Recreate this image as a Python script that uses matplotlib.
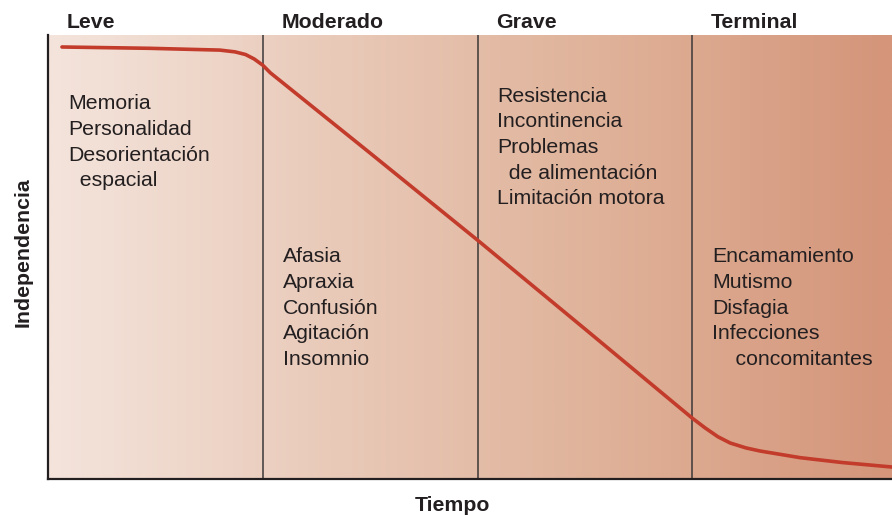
import matplotlib.pyplot as plt
import numpy as np
from matplotlib.colors import LinearSegmentedColormap

plt.rcParams['font.family'] = ['Liberation Sans', 'DejaVu Sans']

# etapas y sintomas
stages = ['Leve', 'Moderado', 'Grave', 'Terminal']
stage_start = [0, 1, 2, 3]
symptoms = [
    ['Memoria', 'Personalidad', 'Desorientación', '  espacial'],
    ['Afasia', 'Apraxia', 'Confusión', 'Agitación', 'Insomnio'],
    ['Resistencia', 'Incontinencia', 'Problemas', '  de alimentación', 'Limitación motora'],
    ['Encamamiento', 'Mutismo', 'Disfagia', 'Infecciones', '    concomitantes'],
]
# altura (0-1) de la primera linea de cada bloque
symptom_top = [0.845, 0.5, 0.862, 0.5]

# curva de independencia
tiempo = [0.065, 0.475, 0.80, 0.871, 0.92, 0.96, 1.0, 1.035, 1.071,
          1.5, 2.0, 2.5, 3.0, 3.06, 3.12, 3.177, 3.25, 3.316, 3.503, 3.7, 3.93]
independencia = [0.973, 0.970, 0.966, 0.962, 0.956, 0.946, 0.932, 0.915, 0.901,
                 0.734, 0.538, 0.338, 0.137, 0.115, 0.095, 0.081, 0.070, 0.063, 0.048, 0.037, 0.027]

xmax = 3.93

fig = plt.figure(figsize=(8.92, 5.15), dpi=100)
ax = fig.add_axes([48 / 892, 36 / 515, 844 / 892, 444 / 515])

# fondo degradado
cmap = LinearSegmentedColormap.from_list('bg', ['#f4e4dc', '#e9cab9', '#dfb198', '#d4957a'])
grad = np.linspace(0, 1, 512).reshape(1, -1)
ax.imshow(grad, cmap=cmap, aspect='auto', extent=[0, xmax, 0, 1], zorder=0)

for s in stage_start[1:]:
    ax.axvline(s, color='#3c3838', lw=1.1, zorder=1)

ax.plot(tiempo, independencia, color='#c23b2b', lw=2.6, solid_capstyle='round',
        solid_joinstyle='round', zorder=3)

for name, s in zip(stages, stage_start):
    ax.text(s + 0.088, 1.0 + 13 / 444, name, fontsize=15.3, fontweight='bold',
            color='#231f20', va='center', ha='left', clip_on=False)

spacing = 25.6 / 444
for lines, s, top in zip(symptoms, stage_start, symptom_top):
    for i, line in enumerate(lines):
        ax.text(s + 0.093, top - i * spacing, line, fontsize=15.3, color='#231f20',
                va='center', ha='left')

ax.set_xlim(0, xmax)
ax.set_ylim(0, 1)
ax.set_xticks([])
ax.set_yticks([])
for side in ['top', 'right']:
    ax.spines[side].set_visible(False)
for side in ['left', 'bottom']:
    ax.spines[side].set_color('#231f20')
    ax.spines[side].set_linewidth(1.6)

ax.set_ylabel('Independencia', fontsize=15.3, fontweight='bold', color='#231f20')
ax.yaxis.set_label_coords(-15 / 844, 0.511)
ax.set_xlabel('Tiempo', fontsize=15.3, fontweight='bold', color='#231f20')
ax.xaxis.set_label_coords((452 - 48) / 844, -17 / 444)

fig.savefig('out.png', dpi=100)
